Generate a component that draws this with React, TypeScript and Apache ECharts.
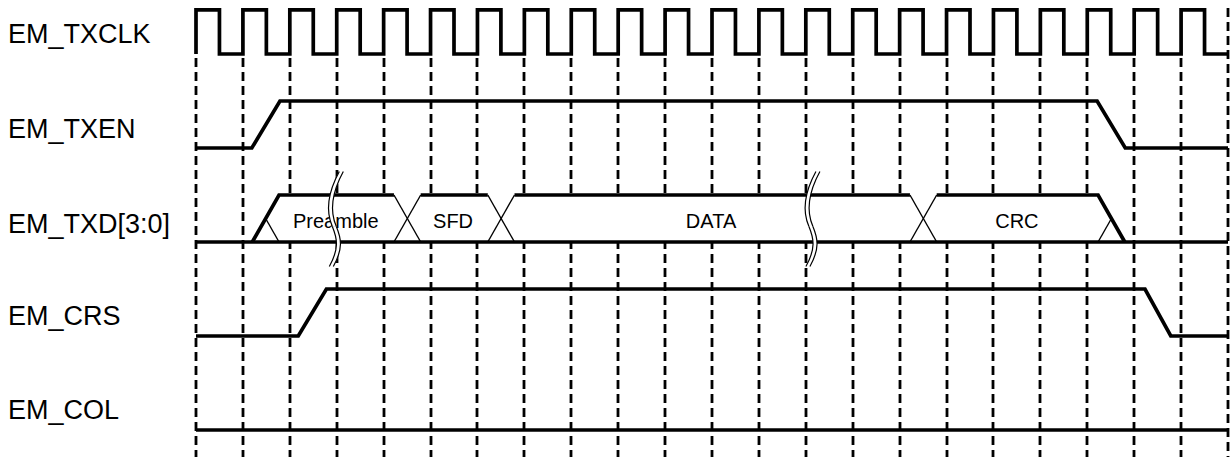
import React, { useEffect, useRef } from "react";
import * as echarts from "echarts";

// ---------- data ----------
const signalNames = ["EM_TXCLK", "EM_TXEN", "EM_TXD[3:0]", "EM_CRS", "EM_COL"];
const gridTicks = [0, 1, 2, 3, 4, 5, 6, 7, 8, 9, 10, 11, 12, 13, 14, 15, 16, 17, 18, 19, 20, 21, 22];
// clock edges (rise, fall, rise, fall ...) in clock periods
const clockEdges = [
  0, 0.5, 1, 1.5, 2, 2.5, 3, 3.5, 4, 4.5, 5, 5.5, 6, 6.5, 7, 7.5, 8, 8.5, 9, 9.5, 10, 10.5,
  11, 11.5, 12, 12.5, 13, 13.5, 14, 14.5, 15, 15.5, 16, 16.5, 17, 17.5, 18, 18.5, 19, 19.5,
  20, 20.5, 21, 21.5,
];
const txenWave: number[][] = [[0, 0], [1.19, 0], [1.79, 1], [19.21, 1], [19.81, 0], [22, 0]];
const crsWave: number[][] = [[0, 0], [2.18, 0], [2.78, 1], [20.23, 1], [20.78, 0], [22, 0]];
const colWave: number[][] = [[0, 0], [22, 0]];
const txdFrameStart = 1.2;
const txdFrameEnd = 19.23;
const txdEdgeWidth = 0.57;
const txdSwitches = [4.22, 6.22, 15.22];
const txdFields = ["Preamble", "SFD", "DATA", "CRC"];
const txdFieldCentres = [2.98, 5.48, 10.98, 17.5];
const txdBreaks = [2.97, 13.13];

// ---------- layout ----------
const X_MIN = 0;
const X_MAX = 22;
const ROW_PITCH = 2;
const rowBase = (r: number) => (signalNames.length - 1 - r) * ROW_PITCH;
const CLOCK_SWING = 0.94;
const PX_PER_UNIT = 47;
const Y_MIN = -27 / PX_PER_UNIT;
const Y_MAX = 430 / PX_PER_UNIT;
const GRID_TOP = (430 - 58) / PX_PER_UNIT;
const GRID_TOP_LAST = (430 - 8) / PX_PER_UNIT;
const labelY = [34, 129, 224, 316, 410];
const FONT = '"Liberation Sans", Arial, Helvetica, sans-serif';
const THICK = 3.7;

function shift(wave: number[][], r: number) {
  return wave.map(([x, l]) => [x, rowBase(r) + l]);
}

function clockData() {
  const b = rowBase(0);
  const pts: number[][] = [[X_MIN, b]];
  clockEdges.forEach((t, i) => {
    const from = i % 2 === 0 ? 0 : 1;
    const to = 1 - from;
    pts.push([t, b + from * CLOCK_SWING], [t, b + to * CLOCK_SWING]);
  });
  pts.push([X_MAX, b]);
  return pts;
}

const thick = { stroke: "#000", lineWidth: THICK, fill: null as any, lineJoin: "miter" as const };
const thin = { stroke: "#000", lineWidth: 1.4, fill: null as any };

function renderGrid(_params: any, api: any) {
  const k = api.value(0);
  const top = api.coord([k, api.value(1)]);
  const bottom = api.coord([k, Y_MIN]);
  const x = Math.round(top[0]);
  return {
    type: "line",
    shape: { x1: x, y1: top[1], x2: x, y2: bottom[1] },
    style: { stroke: "#000", lineWidth: 2.8, lineDash: [9, 5], fill: null },
  };
}

function renderBus(_params: any, api: any) {
  const lo = rowBase(2);
  const hi = lo + 1;
  const mid = lo + 0.5;
  const c = (x: number, y: number) => api.coord([x, y]);
  const w = txdEdgeWidth;
  const children: any[] = [];
  children.push({
    type: "polygon",
    shape: { points: [c(txdFrameStart, lo), c(txdFrameStart + w, hi), c(txdFrameEnd, hi), c(txdFrameEnd + w, lo)] },
    style: { fill: "#fff", stroke: null },
  });
  // thin crossing lines
  children.push({ type: "polyline", shape: { points: [c(txdFrameStart + w / 2, mid), c(txdFrameStart + w, lo)] }, style: thin });
  txdSwitches.forEach((s) => {
    children.push({ type: "polyline", shape: { points: [c(s, lo), c(s + w, hi)] }, style: thin });
    children.push({ type: "polyline", shape: { points: [c(s, hi), c(s + w, lo)] }, style: thin });
  });
  children.push({ type: "polyline", shape: { points: [c(txdFrameEnd, lo), c(txdFrameEnd + w / 2, mid)] }, style: thin });
  // thick outline
  children.push({ type: "polyline", shape: { points: [c(X_MIN, lo), c(X_MAX, lo)] }, style: thick });
  children.push({ type: "polyline", shape: { points: [c(txdFrameStart, lo), c(txdFrameStart + w, hi), c(txdSwitches[0], hi)] }, style: thick });
  for (let i = 0; i < txdSwitches.length - 1; i++) {
    children.push({ type: "polyline", shape: { points: [c(txdSwitches[i] + w, hi), c(txdSwitches[i + 1], hi)] }, style: thick });
  }
  children.push({
    type: "polyline",
    shape: { points: [c(txdSwitches[txdSwitches.length - 1] + w, hi), c(txdFrameEnd, hi), c(txdFrameEnd + w, lo)] },
    style: thick,
  });
  // field labels
  txdFields.forEach((t, i) => {
    const p = c(txdFieldCentres[i], mid);
    children.push({
      type: "text",
      x: p[0],
      y: p[1] + 2,
      style: { text: t, fill: "#000", font: `20px ${FONT}`, align: "center", verticalAlign: "middle" },
    });
  });
  return { type: "group", children };
}

function renderBreak(_params: any, api: any) {
  const p = api.coord([api.value(0), api.value(1)]);
  const segs = [
    [6, -47, -6, -25, -8, -8, -1, 8],
    [-1, 8, 4, 20, 6, 30, -4, 48],
  ];
  const children: any[] = [];
  const add = (o: number, style: any) => {
    segs.forEach((s) => {
      children.push({
        type: "bezierCurve",
        shape: { x1: s[0] + o, y1: s[1], cpx1: s[2] + o, cpy1: s[3], cpx2: s[4] + o, cpy2: s[5], x2: s[6] + o, y2: s[7] },
        style,
      });
    });
  };
  add(0, { stroke: "#fff", lineWidth: 4, fill: null });
  add(-2, { stroke: "#000", lineWidth: 1.2, fill: null });
  add(2, { stroke: "#000", lineWidth: 1.2, fill: null });
  return { type: "group", x: p[0], y: p[1], children };
}

export default function App() {
  const ref = useRef<HTMLDivElement>(null);
  useEffect(() => {
    if (!ref.current) return;
    const chart = echarts.init(ref.current, null, { renderer: "svg" });
    const lineSeries = (data: number[][]) => ({
      type: "line",
      data,
      symbol: "none",
      clip: false,
      silent: true,
      z: 5,
      lineStyle: { color: "#000", width: THICK, join: "miter" },
    });
    chart.setOption({
      animation: false,
      backgroundColor: "#fff",
      grid: { left: 196, right: 3, top: 0, bottom: 0 },
      xAxis: { type: "value", min: X_MIN, max: X_MAX, show: false },
      yAxis: { type: "value", min: Y_MIN, max: Y_MAX, show: false },
      graphic: signalNames.map((n, i) => ({
        type: "text",
        x: 8,
        y: labelY[i],
        style: { text: n, fill: "#000", font: `27px ${FONT}`, verticalAlign: "middle" },
      })),
      series: [
        {
          type: "custom",
          renderItem: renderGrid,
          data: gridTicks.map((k) => [k, k === X_MAX ? GRID_TOP_LAST : GRID_TOP]),
          clip: false,
          silent: true,
          z: 1,
        },
        {
          type: "custom",
          renderItem: renderBus,
          data: [[X_MIN, rowBase(2)]],
          clip: false,
          silent: true,
          z: 3,
        },
        lineSeries(clockData()),
        lineSeries(shift(txenWave, 1)),
        lineSeries(shift(crsWave, 3)),
        lineSeries(shift(colWave, 4)),
        {
          type: "custom",
          renderItem: renderBreak,
          data: txdBreaks.map((x) => [x, rowBase(2) + 0.5]),
          clip: false,
          silent: true,
          z: 8,
        },
      ],
    });
    return () => chart.dispose();
  }, []);
  return (
    <div
      ref={ref}
      style={{ position: "fixed", left: 0, top: 0, width: 1231, height: 457, background: "#fff" }}
    />
  );
}
